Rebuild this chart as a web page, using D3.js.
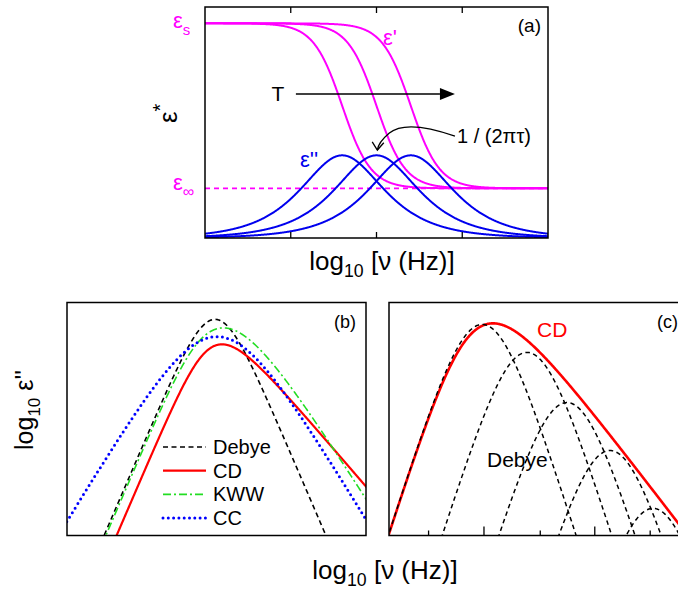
<!DOCTYPE html>
<html><head><meta charset="utf-8">
<script src="https://cdn.jsdelivr.net/npm/d3@7"></script>
<style>
body{margin:0;background:#fff}
svg{display:block}
text{font-family:"Liberation Sans",Arial,Helvetica,sans-serif}
</style>
</head><body>
<svg id="chart" width="678" height="589"></svg>
<script>
// ================= DATA =================
// Panel (a): Debye relaxation at three temperatures
const aLogFreqDomain = [-2, 2];
const aValueDomain = [-0.301, 1.099];
const aTicks = [-1, 0, 1];
const aEpsStatic = 1.0;          // eps_s
const aEpsInfinity = 0.0;        // eps_inf
const aRelaxLogFreq = [-0.4, 0, 0.4];   // log10 of 1/(2*pi*tau) for the three T
const aLossOffset = -0.3;        // baseline of the eps'' curves
const aStepSharpness = 1.3;      // steepness of the eps' steps

// Panel (b): comparison of relaxation functions (log-log)
const bLogFreqDomain = [-2.47, 2.52];
const bLogLossDomain = [-1.851, -0.18];
const bModels = ["Debye", "CD", "KWW", "CC"];
const bPeakLogFreq = [0, 0.117, 0.14, 0.033];
const bPeakLogLoss = [-0.301, -0.480, -0.362, -0.425];
const bAlpha = [1, 1, null, 0.71];     // Havriliak-Negami type exponent a
const bGamma = [1, 0.5, null, 1];      // Havriliak-Negami type exponent g
const bKwwBeta = 0.68;

// Panel (c): CD curve as superposition of Debye peaks
const cLogFreqDomain = [-0.88, 2.52];
const cLogLossDomain = [-1.27, -0.42];
const cCdBeta = 0.42;
const cCdPeak = [0.302, -0.496];
const cDebyePeakLogFreq = [0.18, 0.689, 1.144, 1.633, 2.122];
const cDebyePeakLogLoss = [-0.50, -0.602, -0.785, -0.960, -1.171];
const cTicksMajor = [0.2, 1.46];
const cTicksMinor = [-0.43, 0.84, 2.09];

// ================= MODEL FUNCTIONS =================
function hnLoss(w, a, g) {
  const wa = Math.pow(w, a);
  const re = 1 + wa * Math.cos(a * Math.PI / 2);
  const im = wa * Math.sin(a * Math.PI / 2);
  const r2 = re * re + im * im;
  const th = Math.atan2(im, re);
  return Math.pow(r2, -g / 2) * Math.sin(g * th);
}
function lgamma(x) {
  const c = [676.5203681218851, -1259.1392167224028, 771.32342877765313,
    -176.61502916214059, 12.507343278686905, -0.13857109526572012,
    9.9843695780195716e-6, 1.5056327351493116e-7];
  if (x < 0.5) return Math.log(Math.PI / Math.abs(Math.sin(Math.PI * x))) - lgamma(1 - x);
  x -= 1;
  let s = 0.99999999999980993;
  for (let i = 0; i < 8; i++) s += c[i] / (x + i + 1);
  const t = x + 7.5;
  return 0.5 * Math.log(2 * Math.PI) + (x + 0.5) * Math.log(t) - t + Math.log(s);
}
function kwwLoss(w, b) {
  if (w >= 0.8) {
    let sum = 0;
    for (let k = 1; k <= 400; k++) {
      const lt = lgamma(k * b + 1) - lgamma(k + 1) - k * b * Math.log(w);
      const mag = Math.exp(lt);
      sum += (k % 2 === 1 ? 1 : -1) * mag * Math.sin(k * b * Math.PI / 2);
      if (k > 10 && mag < 1e-15) break;
    }
    return sum;
  }
  const V = 60, N = 24000, h = V / N, p = 1 / b;
  let s = 0;
  for (let i = 0; i <= N; i++) {
    const v = i * h;
    const f = v === 0 ? 0 : p * Math.pow(v, p - 1) * Math.exp(-v) * Math.cos(w * Math.pow(v, p));
    s += f * (i === 0 || i === N ? 1 : (i % 2 ? 4 : 2));
  }
  return w * s * h / 3;
}
// place a log-log shape so that its maximum sits at (X, Y)
function placed(shape, X, Y) {
  let best = -Infinity, bx = 0;
  for (let lw = -1; lw <= 2; lw += 0.002) {
    const v = shape(lw);
    if (v > best) { best = v; bx = lw; }
  }
  return x => shape(x - X + bx) - best + Y;
}

// ================= DRAWING =================
const svg = d3.select("#chart");
const defs = svg.append("defs");
function clip(id, x0, y0, x1, y1) {
  defs.append("clipPath").attr("id", id).append("rect")
    .attr("x", x0).attr("y", y0).attr("width", x1 - x0).attr("height", y1 - y0);
}
const black = "#000";

// ---------- Panel (a) ----------
const xA = d3.scaleLinear().domain(aLogFreqDomain).range([205, 548]);
const yA = d3.scaleLinear().domain(aValueDomain).range([238, 7]);
clip("clipA", 205, 7, 548, 238);
const gA = svg.append("g").attr("clip-path", "url(#clipA)");
const xsA = d3.range(0, 801).map(i => aLogFreqDomain[0] + (aLogFreqDomain[1] - aLogFreqDomain[0]) * i / 800);
const lineA = d3.line().x(d => xA(d[0])).y(d => yA(d[1]));

gA.append("path")
  .attr("d", lineA([[aLogFreqDomain[0], aEpsInfinity], [aLogFreqDomain[1], aEpsInfinity]]))
  .attr("stroke", "#ff00ff").attr("stroke-width", 1.6).attr("stroke-dasharray", "5 4").attr("fill", "none");

aRelaxLogFreq.forEach(x0 => {
  const pts = xsA.map(x => [x, aEpsInfinity + (aEpsStatic - aEpsInfinity) / (1 + Math.pow(10, 2 * aStepSharpness * (x - x0)))]);
  gA.append("path").attr("d", lineA(pts)).attr("fill", "none")
    .attr("stroke", "#ff00ff").attr("stroke-width", 2);
});
aRelaxLogFreq.forEach(x0 => {
  const pts = xsA.map(x => {
    const w = Math.pow(10, x - x0);
    return [x, aLossOffset + (aEpsStatic - aEpsInfinity) * w / (1 + w * w)];
  });
  gA.append("path").attr("d", lineA(pts)).attr("fill", "none")
    .attr("stroke", "#0000ee").attr("stroke-width", 2);
});

// T arrow
svg.append("text").attr("x", 278).attr("y", yA(0.572) + 7).attr("text-anchor", "middle")
  .attr("font-size", 21).text("T");
svg.append("line").attr("x1", xA(-0.94)).attr("x2", xA(0.74)).attr("y1", yA(0.572)).attr("y2", yA(0.572))
  .attr("stroke", black).attr("stroke-width", 1.5);
svg.append("path")
  .attr("d", `M${xA(0.915)},${yA(0.572)} L${xA(0.74)},${yA(0.572) - 6} L${xA(0.74)},${yA(0.572) + 6} Z`)
  .attr("fill", black);

// curved arrow to 1/(2 pi tau)
{
  const p = d3.path();
  p.moveTo(xA(0.915), yA(0.317));
  p.bezierCurveTo(xA(0.62), yA(0.37), xA(0.30), yA(0.40), xA(0.15), yA(0.335));
  p.bezierCurveTo(xA(0.07), yA(0.30), xA(0.02), yA(0.27), xA(0.01), yA(0.232));
  svg.append("path").attr("d", p.toString()).attr("fill", "none").attr("stroke", black).attr("stroke-width", 1.3);
  svg.append("path")
    .attr("d", `M${xA(-0.05)},${yA(0.281)} L${xA(0.01)},${yA(0.232)} L${xA(0.085)},${yA(0.276)}`)
    .attr("fill", "none").attr("stroke", black).attr("stroke-width", 1.3);
}
svg.append("text").attr("x", 457).attr("y", 143).attr("font-size", 20).text("1 / (2πτ)");

// labels panel a
svg.append("text").attr("x", 383).attr("y", 45).attr("font-size", 22).attr("fill", "#ff00ff").text("ε'");
svg.append("text").attr("x", 300).attr("y", 167).attr("font-size", 22).attr("fill", "#0000ee").text("ε''");
{
  const t = svg.append("text").attr("x", 173).attr("y", 28).attr("font-size", 22).attr("fill", "#ff00ff");
  t.append("tspan").text("ε");
  t.append("tspan").attr("dy", 7).attr("font-size", 15).text("s");
  const t2 = svg.append("text").attr("x", 173).attr("y", 190).attr("font-size", 22).attr("fill", "#ff00ff");
  t2.append("tspan").text("ε");
  t2.append("tspan").attr("dy", 7).attr("font-size", 16).text("∞");
  const t3 = svg.append("text").attr("transform", "translate(177,123) rotate(-90)").attr("font-size", 26);
  t3.append("tspan").text("ε");
  t3.append("tspan").attr("dy", -10).attr("font-size", 20).text("*");
}
svg.append("text").attr("x", 541).attr("y", 32).attr("text-anchor", "end").attr("font-size", 19).text("(a)");

// frame + ticks a
svg.append("rect").attr("x", 205).attr("y", 7).attr("width", 343).attr("height", 231)
  .attr("fill", "none").attr("stroke", black).attr("stroke-width", 1.5);
aTicks.forEach(t => {
  svg.append("line").attr("x1", xA(t)).attr("x2", xA(t)).attr("y1", 238).attr("y2", 232).attr("stroke", black).attr("stroke-width", 1.3);
  svg.append("line").attr("x1", xA(t)).attr("x2", xA(t)).attr("y1", 7).attr("y2", 13).attr("stroke", black).attr("stroke-width", 1.3);
});

function axisLabel(x, y, size) {
  const t = svg.append("text").attr("x", x).attr("y", y).attr("text-anchor", "middle").attr("font-size", size);
  t.append("tspan").text("log");
  t.append("tspan").attr("dy", 7).attr("font-size", size * 0.68).text("10");
  t.append("tspan").attr("dy", -7).text(" [ν (Hz)]");
}
axisLabel(382, 270, 26);
axisLabel(385, 579, 26);

// ---------- Panel (b) ----------
const xB = d3.scaleLinear().domain(bLogFreqDomain).range([67, 366]);
const yB = d3.scaleLinear().domain(bLogLossDomain).range([535.5, 302.5]);
clip("clipB", 67, 302.5, 366, 535.5);
const gB = svg.append("g").attr("clip-path", "url(#clipB)");
const xsB = d3.range(0, 601).map(i => bLogFreqDomain[0] - 0.05 + (bLogFreqDomain[1] - bLogFreqDomain[0] + 0.1) * i / 600);
const bStyles = {
  Debye: {stroke: "#000", width: 1.6, dash: "5 3.5", cap: "butt"},
  CD: {stroke: "#ff0000", width: 2.2, dash: null, cap: "butt"},
  KWW: {stroke: "#22dd22", width: 1.6, dash: "8 3 2 3", cap: "butt"},
  CC: {stroke: "#0000ff", width: 3, dash: "0 5.3", cap: "round"}
};
bModels.forEach((m, i) => {
  const shape = m === "KWW"
    ? (lw => Math.log10(kwwLoss(Math.pow(10, lw), bKwwBeta)))
    : (lw => Math.log10(hnLoss(Math.pow(10, lw), bAlpha[i], bGamma[i])));
  const f = placed(shape, bPeakLogFreq[i], bPeakLogLoss[i]);
  const pts = xsB.map(x => [xB(x), yB(f(x))]);
  const st = bStyles[m];
  gB.append("path").attr("d", d3.line()(pts)).attr("fill", "none")
    .attr("stroke", st.stroke).attr("stroke-width", st.width)
    .attr("stroke-dasharray", st.dash).attr("stroke-linecap", st.cap);
});
// legend
bModels.forEach((m, i) => {
  const y = 447 + i * 23.7;
  const st = bStyles[m];
  svg.append("line").attr("x1", 163).attr("x2", 206).attr("y1", y).attr("y2", y)
    .attr("stroke", st.stroke).attr("stroke-width", st.width)
    .attr("stroke-dasharray", st.dash).attr("stroke-linecap", st.cap);
  svg.append("text").attr("x", 213).attr("y", y + 7).attr("font-size", 20).text(m);
});
svg.append("text").attr("x", 356).attr("y", 328).attr("text-anchor", "end").attr("font-size", 18).text("(b)");
svg.append("rect").attr("x", 67).attr("y", 302.5).attr("width", 299).attr("height", 233)
  .attr("fill", "none").attr("stroke", black).attr("stroke-width", 1.5);
{
  const t = svg.append("text").attr("transform", "translate(33,410) rotate(-90)").attr("text-anchor", "middle").attr("font-size", 25);
  t.append("tspan").text("log");
  t.append("tspan").attr("dy", 7).attr("font-size", 17).text("10");
  t.append("tspan").attr("dy", -7).text(" ε''");
}

// ---------- Panel (c) ----------
const xC = d3.scaleLinear().domain(cLogFreqDomain).range([389, 688]);
const yC = d3.scaleLinear().domain(cLogLossDomain).range([535.5, 302.5]);
clip("clipC", 389, 302.5, 688, 535.5);
const gC = svg.append("g").attr("clip-path", "url(#clipC)");
const xsC = d3.range(0, 601).map(i => cLogFreqDomain[0] - 0.05 + (cLogFreqDomain[1] - cLogFreqDomain[0] + 0.1) * i / 600);
{
  const f = placed(lw => Math.log10(hnLoss(Math.pow(10, lw), 1, cCdBeta)), cCdPeak[0], cCdPeak[1]);
  gC.append("path").attr("d", d3.line()(xsC.map(x => [xC(x), yC(f(x))]))).attr("fill", "none")
    .attr("stroke", "#ff0000").attr("stroke-width", 2.6);
}
cDebyePeakLogFreq.forEach((px, i) => {
  const f = placed(lw => Math.log10(hnLoss(Math.pow(10, lw), 1, 1)), px, cDebyePeakLogLoss[i]);
  gC.append("path").attr("d", d3.line()(xsC.map(x => [xC(x), yC(f(x))]))).attr("fill", "none")
    .attr("stroke", black).attr("stroke-width", 1.5).attr("stroke-dasharray", "4.5 3.5");
});
svg.append("text").attr("x", 537).attr("y", 337).attr("font-size", 21).attr("fill", "#ff0000").text("CD");
svg.append("text").attr("x", 487).attr("y", 467).attr("font-size", 21).text("Debye");
svg.append("text").attr("x", 678).attr("y", 328).attr("text-anchor", "end").attr("font-size", 18).text("(c)");
svg.append("rect").attr("x", 389).attr("y", 302.5).attr("width", 299).attr("height", 233)
  .attr("fill", "none").attr("stroke", black).attr("stroke-width", 1.5);
cTicksMajor.forEach(t => svg.append("line").attr("x1", xC(t)).attr("x2", xC(t)).attr("y1", 535.5).attr("y2", 526.5).attr("stroke", black).attr("stroke-width", 1.3));
cTicksMinor.forEach(t => svg.append("line").attr("x1", xC(t)).attr("x2", xC(t)).attr("y1", 535.5).attr("y2", 530.5).attr("stroke", black).attr("stroke-width", 1.3));
</script>
</body></html>
